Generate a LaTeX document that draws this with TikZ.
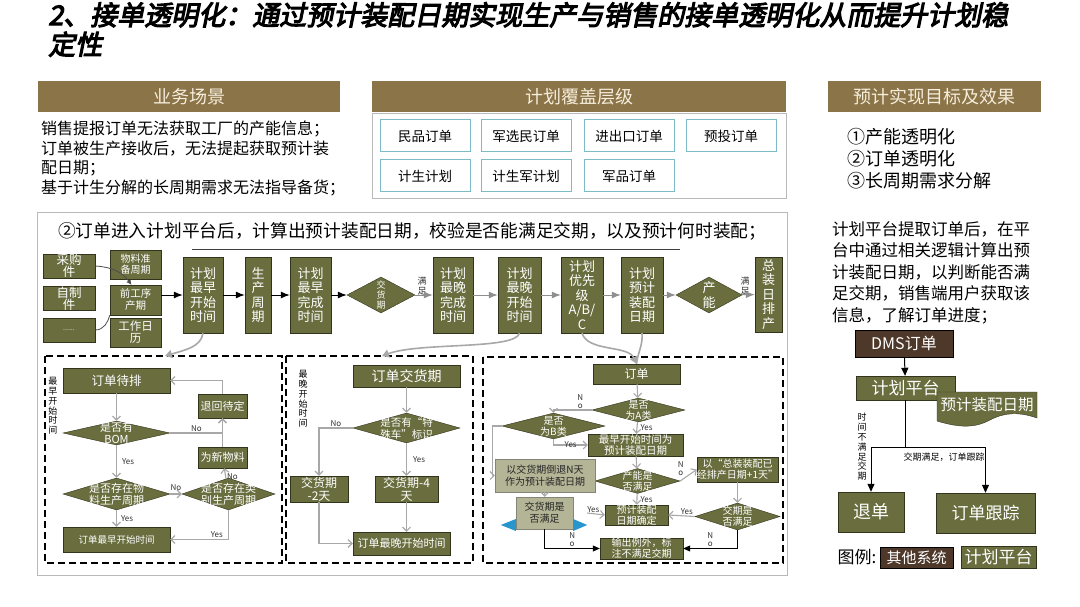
\documentclass[tikz,border=0pt]{standalone}
\usepackage{fontspec}
\setmainfont{Noto Sans CJK SC}
\newfontfamily\titlefont[FakeBold=4,FakeSlant=0.2]{Noto Sans CJK SC}
\usetikzlibrary{shapes.geometric,arrows.meta}

\definecolor{olivebox}{RGB}{106,110,62}
\definecolor{olivedark}{RGB}{50,52,28}
\definecolor{hdrbrown}{RGB}{139,116,72}
\definecolor{hdrtext}{RGB}{246,238,220}
\definecolor{darkbrown}{RGB}{78,56,42}
\definecolor{khaki}{RGB}{180,180,150}
\definecolor{tierblue}{RGB}{125,188,198}
\definecolor{flowgray}{RGB}{168,168,168}
\definecolor{framegray}{RGB}{185,185,185}
\definecolor{tipblue}{RGB}{40,150,205}

\tikzset{fs/.style 2 args={font=\fontsize{#1}{#2}\selectfont},
  hdrbar/.style={fill=hdrbrown, text=hdrtext, fs={18}{20}, inner sep=0pt},
  tierbox/.style={draw=tierblue, line width=1pt, fill=white,
    minimum width=90, minimum height=32, fs={13.5}{15}},
  obox/.style={draw=olivedark, fill=olivebox, text=white, align=center, inner sep=0pt},
  rowbox/.style={obox, fs={13}{14.5}},
  kbox/.style={draw=olivedark!60, fill=khaki, text=black!85, align=center, inner sep=0pt},
  bbox/.style={draw=black, fill=darkbrown, text=white, align=center, inner sep=0pt},
  dec/.style={obox, diamond},
  dlab/.style={text=white, align=center, inner sep=0pt},
  tag/.style={fs={8}{9}, text=black!80, align=center, inner sep=1pt},
  vlab/.style={fs={9}{9.8}, align=center, inner sep=0pt},
  blk/.style={draw=black, line width=1pt, -{Latex[length=9pt,width=7pt]}},
  garrow/.style={draw=flowgray!85!black, line width=1pt, -{Latex[length=9pt,width=7pt]}},
  feed/.style={draw=flowgray, line width=1.6pt, -{Triangle[length=7pt,width=8pt]}},
  flow/.style={draw=flowgray, line width=1.1pt, -{Straight Barb[length=4pt,width=8pt]}},
  nflow/.style={draw=black, line width=0.8pt, -{Triangle[length=7pt,width=6pt]}},
  rarrow/.style={draw=black, line width=1pt, -{Triangle[length=8pt,width=7pt]}},
  dashbox/.style={draw=black, line width=1.6pt, dash pattern=on 7pt off 4pt},
}

\begin{document}
\begin{tikzpicture}[x=1pt,y=-1pt]
  \useasboundingbox (0,0) rectangle (1080,607);
  \fill[white] (0,0) rectangle (1080,607);

  % title
  \node[anchor=north west, align=left, inner sep=0pt,
    font=\titlefont\fontsize{27}{29.5}\selectfont] (title) at (48,2)
    {2、接单透明化：通过预计装配日期实现生产与销售的接单透明化从而提升计划稳\\定性};

  % header bars
  \node[hdrbar, minimum width=302, minimum height=31] (hscene) at (189,96.5) {业务场景};
  \node[hdrbar, minimum width=414, minimum height=31] (hlevel) at (579,96.5) {计划覆盖层级};
  \node[hdrbar, minimum width=213, minimum height=31] (hgoal) at (934.5,96.5) {预计实现目标及效果};

  \node[anchor=north west, align=left, inner sep=0pt, fs={16}{19.5}] (scene) at (41,121)
    {销售提报订单无法获取工厂的产能信息；\\订单被生产接收后，无法提起获取预计装\\配日期；\\基于计生分解的长周期需求无法指导备货；};

  % plan levels
  \draw[framegray] (372,113) rectangle (786,198);
  \node[tierbox] (civil) at (425,136) {民品订单};
  \node[tierbox] (milciv) at (526,136) {军选民订单};
  \node[tierbox] (impexp) at (629,136) {进出口订单};
  \node[tierbox] (invest) at (731,136) {预投订单};
  \node[tierbox] (plan) at (425,176) {计生计划};
  \node[tierbox] (milplan) at (526,176) {计生军计划};
  \node[tierbox] (milord) at (629,176) {军品订单};

  % goals
  \node[anchor=north west, align=left, inner sep=0pt, fs={18}{22}] (goals) at (847,128)
    {①产能透明化\\②订单透明化\\③长周期需求分解};
  \node[anchor=north west, align=left, inner sep=0pt, fs={16.5}{21.6}] (desc) at (832,221)
    {计划平台提取订单后，在平\\台中通过相关逻辑计算出预\\计装配日期，以判断能否满\\足交期，销售端用户获取该\\信息，了解订单进度；};

  % main frame
  \draw[framegray, line width=1pt] (37,213) rectangle (787,575);
  \node[anchor=west, inner sep=0pt, fs={17.7}{20}] (flowtitle) at (58,231)
    {②订单进入计划平台后，计算出预计装配日期，校验是否能满足交期，以及预计何时装配；};
  \draw[black!75, line width=1pt] (192,249) -- (680,249);

  % inputs
  \node[obox, fs={12.5}{10.5}, minimum width=52, minimum height=22] (buy) at (69,266) {采购\\件};
  \node[obox, fs={12.5}{10.5}, minimum width=52, minimum height=23] (self) at (69,298.5) {自制\\件};
  \node[obox, fs={7}{8}, minimum width=52, minimum height=24] (more) at (69,330) {......};
  \node[obox, fs={10}{11}, minimum width=51, minimum height=29] (prep) at (135.5,264.5) {物料准\\备周期};
  \node[obox, fs={10.5}{12}, minimum width=51, minimum height=30] (preproc) at (135.5,300) {前工序\\产期};
  \node[obox, fs={11.5}{12}, minimum width=51, minimum height=29] (cal) at (135.5,332.5) {工作日\\历};
  \draw[black!70, line width=0.8pt, -{Latex[length=5pt,width=5pt]}]
    (buy.east) .. controls (112,267) and (122,272) .. ([xshift=-4pt]preproc.north);
  \draw[black!70, line width=0.8pt] (more.east) .. controls (104,330) and (108,322) .. (preproc.south west);

  % main row
  \node[rowbox, minimum width=40, minimum height=76] (estart) at (203,295) {计划\\最早\\开始\\时间};
  \node[rowbox, minimum width=26, minimum height=76] (pcycle) at (258,295) {生\\产\\周\\期};
  \node[rowbox, minimum width=41, minimum height=76] (efinish) at (310.5,295) {计划\\最早\\完成\\时间};
  \node[dec, minimum width=68, minimum height=36,
    label={[dlab,fs={9}{10}]center:{交\\货\\期}}] (duechk) at (381,295) {};
  \node[rowbox, minimum width=40, minimum height=76] (lfinish) at (453,295) {计划\\最晚\\完成\\时间};
  \node[rowbox, minimum width=43, minimum height=76] (lstart) at (519.5,295) {计划\\最晚\\开始\\时间};
  \node[rowbox, minimum width=42, minimum height=76] (prio) at (582,295) {计划\\优先\\级\\A/B/\\C};
  \node[rowbox, minimum width=42, minimum height=76] (padate) at (642,295) {计划\\预计\\装配\\日期};
  \node[dec, minimum width=66, minimum height=36,
    label={[dlab,fs={13}{15}]center:{产\\能}}] (capchk) at (709,295) {};
  \node[rowbox, minimum width=27, minimum height=75] (final) at (768.5,294.5) {总\\装\\日\\排\\产};
  \node[tag, fs={9}{10}] (ok1) at (422,286) {满\\足};
  \node[tag, fs={9}{10}] (ok2) at (745,286) {满\\足};

  \draw[blk] (estart.west -| preproc.east) -- (estart.west);
  \draw[blk] (estart) -- (pcycle);
  \draw[blk] (pcycle) -- (efinish);
  \draw[blk] (efinish) -- (duechk);
  \draw[garrow] (duechk) -- (lfinish);
  \draw[garrow] (lfinish) -- (lstart);
  \draw[garrow] (lstart) -- (prio);
  \draw[garrow] (prio) -- (padate);
  \draw[garrow] (padate) -- (capchk);
  \draw[garrow] (capchk) -- (final);

  % dashed groups
  \draw[dashbox] (45,356) rectangle (282,563);
  \draw[dashbox] (286,356) rectangle (473,563);
  \draw[dashbox] (483,357) rectangle (783,563);

  % earliest start
  \node[vlab] (elab) at (53,406) {最\\早\\开\\始\\时\\间};
  \node[obox, fs={12.5}{14}, minimum width=107, minimum height=25] (queue) at (116.5,380.5) {订单待排};
  \node[obox, fs={11}{12}, minimum width=49, minimum height=24] (back) at (222.5,406) {退回待定};
  \node[dec, minimum width=107, minimum height=24,
    label={[dlab,fs={11}{12}]center:{是否有\\BOM}}] (bom) at (116.5,433) {};
  \node[obox, fs={11}{12}, minimum width=49, minimum height=21] (newmat) at (222.5,457.5) {为新物料};
  \node[dec, minimum width=107, minimum height=32,
    label={[dlab,fs={11}{12}]center:{是否存在物\\料生产周期}}] (matcyc) at (116.5,494) {};
  \node[dec, minimum width=93, minimum height=32,
    label={[dlab,fs={11}{12}]center:{是否存在类\\别生产周期}}] (catcyc) at (228.5,494) {};
  \node[obox, fs={9.5}{11}, minimum width=107, minimum height=25] (eorder) at (116.5,539.5) {订单最早开始时间};

  \draw[flow] (queue) -- (bom);
  \draw[flow] (bom) -- (matcyc) node[tag, midway, right=4pt] {Yes};
  \draw[flow] (bom.east) -| (back.south) node[tag, pos=0.25, above] {No};
  \draw[flow] (newmat) -- (back);
  \draw[flow] (back.north) |- (queue.east);
  \draw[flow] (matcyc) -- (catcyc) node[tag, midway, above=2pt] {No};
  \draw[flow] (catcyc) -- (newmat) node[tag, pos=0.2, right] {No};
  \draw[flow] (matcyc) -- (eorder) node[tag, midway, right=3pt] {Yes};
  \draw[flow] (catcyc.south) |- (eorder.east) node[tag, pos=0.6, above] {Yes};

  % latest start
  \node[vlab] (llab) at (303,399) {最\\晚\\开\\始\\时\\间};
  \node[obox, fs={14}{15}, minimum width=107, minimum height=22] (due) at (406.5,376) {订单交货期};
  \node[dec, minimum width=107, minimum height=30,
    label={[dlab,fs={10.5}{12}]center:{是否有“特\\殊车”标识}}] (special) at (406.5,428) {};
  \node[obox, fs={12}{13}, minimum width=58, minimum height=26] (minus2) at (319,489) {交货期\\-2天};
  \node[obox, fs={12}{13}, minimum width=63, minimum height=26] (minus4) at (406.5,489) {交货期-4\\天};
  \node[obox, fs={11}{12}, minimum width=97, minimum height=23] (lorder) at (401.5,543.5) {订单最晚开始时间};

  \draw[flow] (due) -- (special);
  \draw[flow] (special) -- (minus4) node[tag, midway, right=5pt] {Yes};
  \draw[flow] (special.west) -| (minus2.north) node[tag, pos=0.25, above] {No};
  \draw[flow] (minus2.south) |- (lorder.west);
  \draw[flow] (minus4.south) -- (minus4.south |- lorder.north);

  % assembly date
  \node[obox, fs={12}{13}, minimum width=87, minimum height=20] (order) at (636.5,374) {订单};
  \node[dec, minimum width=93, minimum height=24,
    label={[dlab,fs={10}{11}]center:{是否\\为A类}}] (isa) at (638.5,410) {};
  \node[dec, minimum width=103, minimum height=26,
    label={[dlab,fs={10}{11}]center:{是否\\为B类}}] (isb) at (553.5,426) {};
  \node[obox, fs={10.5}{11.5}, minimum width=95, minimum height=22] (early) at (635.5,445) {最早开始时间为\\预计装配日期};
  \node[dec, minimum width=85, minimum height=25,
    label={[dlab,fs={10}{11}]center:{产能是\\否满足}}] (capok) at (637.5,481) {};
  \node[kbox, fs={10}{12}, minimum width=100, minimum height=33] (back2) at (545,475.5) {以交货期倒退N天\\作为预计装配日期};
  \node[kbox, fs={10}{12}, minimum width=57, minimum height=32] (dueok) at (544.5,513) {交货期是\\否满足};
  \fill[tipblue] ([yshift=-6pt]dueok.west) -- ++(0,12) -- ++(-15,-6) -- cycle;
  \fill[tipblue] ([yshift=-6pt]dueok.east) -- ++(0,12) -- ++(14,-6) -- cycle;
  \node[obox, fs={10}{11}, minimum width=63, minimum height=20] (fixed) at (636.5,515) {预计装配\\日期确定};
  \node[obox, fs={10}{11}, minimum width=83, minimum height=21] (except) at (641.5,548.5) {输出例外，标\\注不满足交期};
  \node[obox, fs={10}{11}, minimum width=81, minimum height=25] (plus1) at (737.5,469.5) {以“总装装配已\\经排产日期+1天”};
  \node[dec, minimum width=85, minimum height=27,
    label={[dlab,fs={10}{11}]center:{交期是\\否满足}}] (dateok) at (737.5,516.5) {};

  \coordinate (ltop) at (165,356);
  \coordinate (mtop) at (382,356);
  \draw[feed] (estart.south) .. controls (201,347) and (185,350) .. (ltop);
  \draw[feed] (lstart.south) .. controls (515,350) and (420,342) .. (mtop);
  \draw[feed, -] (padate.south) .. controls (643,345) and (638,352) .. (order.north);
  \draw[feed] (prio.south) .. controls (588,352) and (628,345) .. (order.north);

  \draw[flow] (order) -- (isa);
  \draw[flow] (isa.west) -| (isb.north) node[tag, fs={8}{8}, pos=0.15, above] {N\\o};
  \draw[flow] (isa) -- (early) node[tag, midway, right=2pt] {Yes};
  \draw[flow] (isb.south) |- (early.west) node[tag, pos=0.75] {Yes};
  \draw[flow] (isb.west) -- ++(-9,0) |- (back2.west);
  \draw[flow] (early) -- (capok);
  \draw[flow] (capok.east) -- (plus1.west) node[tag, fs={8}{8}, pos=0.3, above left] {N\\o};
  \draw[flow] (capok) -- (fixed) node[tag, midway, right=2pt] {Yes};
  \draw[flow] (back2) -- (dueok);
  \draw[flow] ([xshift=14pt]dueok.east) -- (fixed.west) node[tag, pos=0.35, above] {Yes};
  \draw[nflow] (dueok.south) |- (except.west) node[tag, fs={8}{8}, pos=0.75, above] {N\\o};
  \draw[flow] (plus1) -- (dateok);
  \draw[flow] (dateok.west) -- (fixed.east) node[tag, pos=0.3, above] {Yes};
  \draw[nflow] (dateok.south) |- (except.east) node[tag, fs={8}{8}, pos=0.75, above] {N\\o};

  % order flow on the right
  \node[bbox, fs={16}{18}, minimum width=98, minimum height=27] (dms) at (904,343.5) {DMS订单};
  \node[obox, fs={17}{19}, minimum width=99, minimum height=24] (platform) at (905.5,388) {计划平台};
  \draw[draw=olivedark, fill=olivebox] (937,392) -- (1037,392) -- (1037,418)
    .. controls (1020,412) and (1005,412) .. (990,420)
    .. controls (975,428) and (960,428) .. (937,421) -- cycle;
  \node[text=white, inner sep=0pt, fs={15.5}{17}] (padoc) at (987,405) {预计装配日期};
  \node[obox, fs={18}{20}, minimum width=66, minimum height=40] (reject) at (871,512) {退单};
  \node[obox, fs={17}{19}, minimum width=99, minimum height=40] (track) at (985.5,513) {订单跟踪};
  \node[vlab] (latelab) at (862,447) {时\\间\\不\\满\\足\\交\\期};
  \node[inner sep=0pt, fs={9}{10}] (oklab) at (944,457) {交期满足，订单跟踪};

  \draw[rarrow] (dms) -- (platform);
  \draw[line width=1pt] (platform.south) -- ++(0,47) coordinate (split);
  \draw[rarrow] (split) -| (reject.north);
  \draw[rarrow] (split) -| (track.north);

  % legend
  \node[inner sep=0pt, fs={17}{19}] (legend) at (857,557) {图例:};
  \node[bbox, fs={15}{17}, minimum width=73, minimum height=21] (legother) at (916.5,557.5) {其他系统};
  \node[obox, fs={17}{19}, minimum width=75, minimum height=22] (legplan) at (998.5,557) {计划平台};
\end{tikzpicture}
\end{document}
